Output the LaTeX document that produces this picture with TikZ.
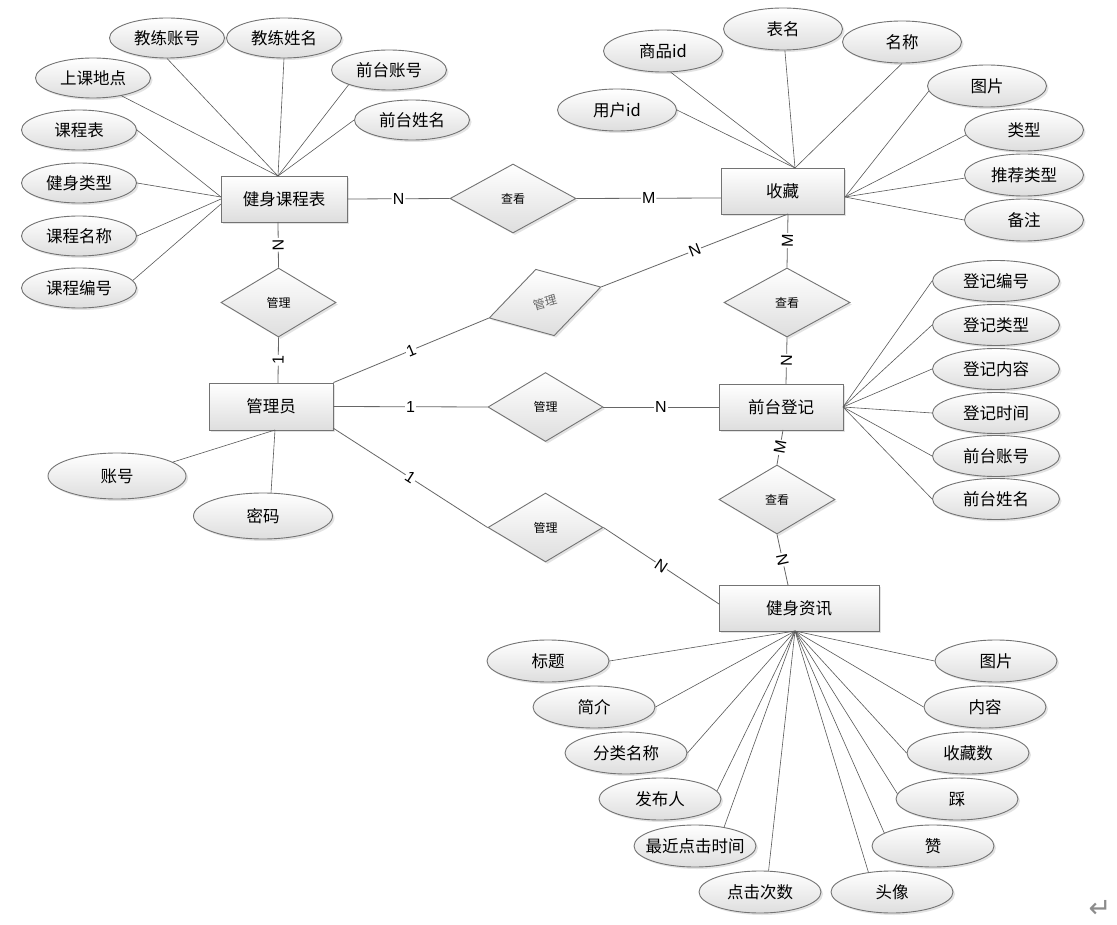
\documentclass[tikz,border=0pt]{standalone}
\usepackage{fontspec}
\setmainfont{Noto Sans CJK SC}
\newfontfamily\latinfont{Liberation Sans}
\newfontfamily\symfont{DejaVu Sans}
\usetikzlibrary{shapes.geometric,shadows}
\tikzset{
  base/.style={draw=black!55, line width=0.9pt, top color=white, bottom color=black!13,
    drop shadow={shadow xshift=2pt, shadow yshift=-2pt, opacity=0.22}},
  ent/.style={base, rectangle, inner sep=0pt, font=\fontsize{16.5}{19}\selectfont},
  attr/.style={base, ellipse, inner sep=0pt, inner xsep=-12pt, font=\fontsize{16.5}{19}\selectfont},
  rel/.style={base, diamond, inner sep=0pt, font=\fontsize{12}{14}\selectfont},
  link/.style={draw=black!60, line width=0.8pt},
  aline/.style={draw=black!65, line width=0.6pt},
  card/.style={fill=white, inner sep=1pt, sloped, pos=0.5, font=\latinfont\fontsize{16}{18}\selectfont},
  asA/.style={attr, minimum width=115pt, minimum height=40pt},
  asB/.style={attr, minimum width=119pt, minimum height=42pt},
  asC/.style={attr, minimum width=127pt, minimum height=41pt},
  asD/.style={attr, minimum width=138pt, minimum height=46pt},
  asE/.style={attr, minimum width=122pt, minimum height=42pt},
}
\begin{document}
\begin{tikzpicture}[x=1pt,y=-1pt]
\useasboundingbox (0,0) rectangle (1117,925);
\fill[white] (0,0) rectangle (1117,925);

% entities
\node[ent, minimum width=126pt, minimum height=46pt] (kcb) at (284,199) {健身课程表};
\node[ent, minimum width=123pt, minimum height=46pt] (sc) at (782.5,191) {收藏};
\node[ent, minimum width=124pt, minimum height=46pt] (qt) at (781,407) {前台登记};
\node[ent, minimum width=124pt, minimum height=47pt] (gly) at (271,406.5) {管理员};
\node[ent, minimum width=160pt, minimum height=46pt] (zx) at (799,608) {健身资讯};

% relationships
\node[rel, minimum width=126pt, minimum height=69pt] (ck1) at (513,198.5) {查看};
\node[rel, minimum width=115pt, minimum height=69pt] (gl1) at (278.5,302.5) {管理};
\node[rel, minimum width=116pt, minimum height=69pt, rotate=15.5, text=black!60] (rd) at (545,302.5) {管理};
\node[rel, minimum width=126pt, minimum height=69pt] (ck2) at (787,302.5) {查看};
\node[rel, minimum width=115pt, minimum height=69pt] (gl2) at (545.5,407) {管理};
\node[rel, minimum width=116pt, minimum height=69pt] (ck3) at (777,499.5) {查看};
\node[rel, minimum width=115pt, minimum height=69pt] (gl3) at (545.5,527.5) {管理};

% connection points
\coordinate (scL) at (721,198);
\coordinate (kcbB) at (278,222);
\coordinate (glyT) at (278,383);
\coordinate (scB) at (788,214);
\coordinate (qtT) at (786,384);
\coordinate (qtB) at (783,430);
\coordinate (zxT) at (788,585);
\coordinate (glyR2) at (333,428);
\coordinate (zxL) at (719,604);
\coordinate (kcbT) at (278,176);
\coordinate (kcbL1) at (221,197);
\coordinate (kcbL2) at (221,199);
\coordinate (kcbL3) at (221,204);
\coordinate (scT) at (795,168);
\coordinate (scR) at (845,197);
\coordinate (qtR) at (843,407);
\coordinate (glyB) at (275,430);
\coordinate (zxB) at (795,631);

% relationship connectors
\draw[link] (kcb.east) -- node[card] {N} (ck1.west);
\draw[link] (ck1.east) -- node[card] {M} (scL);
\draw[link] (kcbB) -- node[card] {N} (gl1.north);
\draw[link] (gl1.south) -- node[card] {1} (glyT);
\draw[link] (gly.north east) -- node[card] {1} (rd.west);
\draw[link] (rd.east) -- node[card] {N} (scB);
\draw[link] (scB) -- node[card] {M} (ck2.north);
\draw[link] (ck2.south) -- node[card] {N} (qtT);
\draw[link] (qtB) -- node[card] {M} (ck3.north);
\draw[link] (ck3.south) -- node[card] {N} (zxT);
\draw[link] (gly.east) -- node[card] {1} (gl2.west);
\draw[link] (gl2.east) -- node[card] {N} (qt.west);
\draw[link] (glyR2) -- node[card] {1} (gl3.west);
\draw[link] (gl3.east) -- node[card] {N} (zxL);

% attributes of 健身课程表
\node[asA] (a1) at (167,38) {教练账号};
\node[asA] (a2) at (284,38) {教练姓名};
\node[asA] (a3) at (93,78) {上课地点};
\node[asA] (a4) at (389,70) {前台账号};
\node[asA] (a5) at (412,120) {前台姓名};
\node[asA] (a6) at (79,130) {课程表};
\node[asA] (a7) at (79,183) {健身类型};
\node[asA] (a8) at (79,236) {课程名称};
\node[asA] (a9) at (79,288) {课程编号};
\draw[aline] (a1.south) -- (kcbT);
\draw[aline] (a2.south) -- (kcbT);
\draw[aline] (a3.-32) -- (kcbT);
\draw[aline] (a4.200) -- (kcbT);
\draw[aline] (a5.west) -- (kcbT);
\draw[aline] (a6.east) -- (kcbL1);
\draw[aline] (a7.east) -- (kcbL1);
\draw[aline] (a8.east) -- (kcbL2);
\draw[aline] (a9.8) -- (kcbL3);

% attributes of 收藏
\node[asB] (b1) at (617,110) {用户id};
\node[asB] (b2) at (663,51) {商品id};
\node[asB] (b3) at (783,29) {表名};
\node[asB] (b4) at (902,42) {名称};
\node[asB] (b5) at (987,86) {图片};
\node[asB] (b6) at (1024,130) {类型};
\node[asB] (b7) at (1024,175) {推荐类型};
\node[asB] (b8) at (1024,220) {备注};
\draw[aline] (b1.east) -- (scT);
\draw[aline] (b2.-70) -- (scT);
\draw[aline] (b3.-85) -- (scT);
\draw[aline] (b4.south) -- (scT);
\draw[aline] (b5.185) -- (scR);
\draw[aline] (b6.185) -- (scR);
\draw[aline] (b7.183) -- (scR);
\draw[aline] (b8.west) -- (scR);

% attributes of 前台登记
\node[asC] (c1) at (996,281) {登记编号};
\node[asC] (c2) at (996,325) {登记类型};
\node[asC] (c3) at (996,369) {登记内容};
\node[asC] (c4) at (996,413) {登记时间};
\node[asC] (c5) at (996,456) {前台账号};
\node[asC] (c6) at (996,499) {前台姓名};
\foreach \n in {c1,c2,c3,c4,c5,c6} \draw[aline] (\n.west) -- (qtR);

% attributes of 管理员
\node[asD] (d1) at (117,476) {账号};
\node[asD, minimum width=139pt] (d2) at (263,516) {密码};
\draw[aline] (d1.14) -- (glyB);
\draw[aline] (d2.71) -- (glyB);

% attributes of 健身资讯
\node[asE] (e1) at (548,661) {标题};
\node[asE] (e2) at (594,707) {简介};
\node[asE] (e3) at (626,753) {分类名称};
\node[asE] (e4) at (660,799) {发布人};
\node[asE] (e5) at (695,846) {最近点击时间};
\node[asE] (e6) at (760,892) {点击次数};
\node[asE] (e7) at (996,661) {图片};
\node[asE] (e8) at (985,707) {内容};
\node[asE] (e9) at (968,753) {收藏数};
\node[asE] (e10) at (957,799) {踩};
\node[asE] (e11) at (933,846) {赞};
\node[asE] (e12) at (892,892) {头像};
\draw[aline] (e1.east) -- (zxB);
\draw[aline] (e2.east) -- (zxB);
\draw[aline] (e3.east) -- (zxB);
\draw[aline] (e4.8) -- (zxB);
\draw[aline] (e5.33) -- (zxB);
\draw[aline] (e6.68) -- (zxB);
\draw[aline] (e7.west) -- (zxB);
\draw[aline] (e8.west) -- (zxB);
\draw[aline] (e9.west) -- (zxB);
\draw[aline] (e10.175) -- (zxB);
\draw[aline] (e11.165) -- (zxB);
\draw[aline] (e12.140) -- (zxB);

\node[text=black!45, inner sep=0pt, scale=1.7, font=\symfont\fontsize{16}{18}\selectfont] (ret) at (1100,909) {↵};
\end{tikzpicture}
\end{document}
